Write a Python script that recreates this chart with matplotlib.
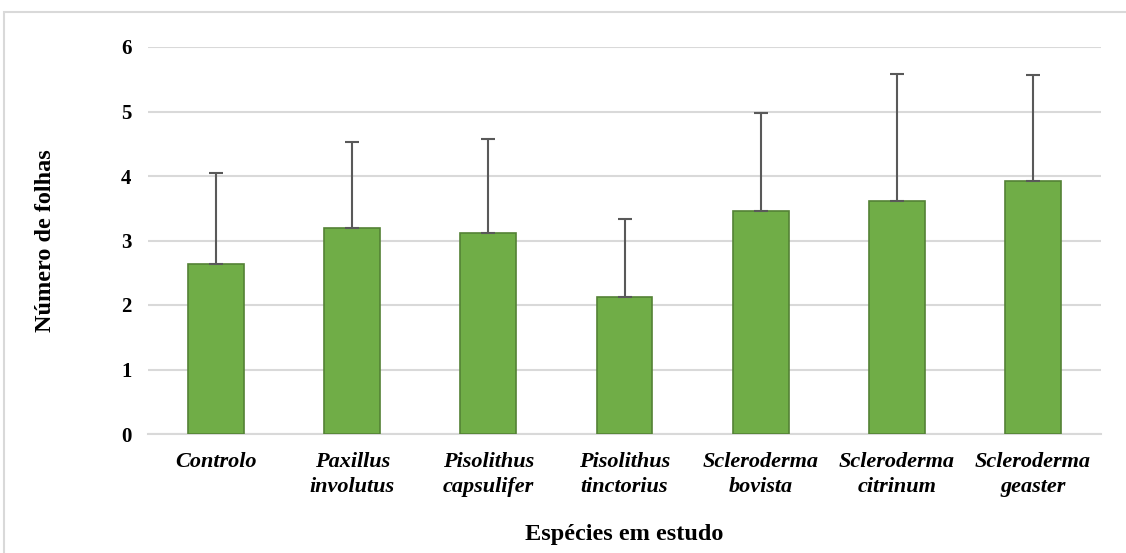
import matplotlib
matplotlib.use("Agg")
import matplotlib.pyplot as plt
from matplotlib.patches import Rectangle

especies = ['Controlo', 'Paxillus\ninvolutus', 'Pisolithus\ncapsulifer', 'Pisolithus\ntinctorius',
            'Scleroderma\nbovista', 'Scleroderma\ncitrinum', 'Scleroderma\ngeaster']
media = [2.64, 3.19, 3.12, 2.13, 3.45, 3.61, 3.92]
desvio = [1.41, 1.34, 1.45, 1.20, 1.52, 1.97, 1.64]

plt.rcParams['font.family'] = ['Liberation Serif', 'DejaVu Serif']

fig = plt.figure(figsize=(11.26, 5.53), dpi=100)
ax = fig.add_axes([148 / 1126, 119 / 553, 953 / 1126, 387 / 553])

# moldura do gráfico
fig.patches.append(Rectangle((4 / 1126, -0.1), 1.2, (553 - 12) / 553 + 0.1,
                             transform=fig.transFigure, fill=False,
                             edgecolor='#d9d9d9', linewidth=1.5))

x = range(len(especies))
ax.bar(x, media, width=0.41, color='#70ad47', edgecolor='#548235', linewidth=1.2, zorder=3)
ax.errorbar(x, media, yerr=[[0] * len(desvio), desvio], fmt='none', ecolor='#595959',
            elinewidth=1.5, capsize=5, capthick=1.5, zorder=4)

ax.set_xlim(-0.5, len(especies) - 0.5)
ax.set_ylim(0, 6)
ax.set_yticks(range(7))
ax.yaxis.grid(True, color='#d9d9d9', linewidth=1.5, zorder=0)
ax.set_axisbelow(True)
for s in ['top', 'right', 'left']:
    ax.spines[s].set_visible(False)
ax.spines['bottom'].set_color('#d9d9d9')
ax.spines['bottom'].set_linewidth(1.5)
ax.tick_params(axis='both', length=0)
ax.tick_params(axis='y', pad=12)
ax.tick_params(axis='x', pad=13)

ax.set_xticks(list(x))
ax.set_xticklabels(especies, fontsize=16, fontweight='bold', fontstyle='italic', linespacing=1.3)
for lab in ax.get_yticklabels():
    lab.set_fontsize(15)
    lab.set_fontweight('bold')

ax.set_xlabel('Espécies em estudo', fontsize=17.5, fontweight='bold', labelpad=20)
ax.set_ylabel('Número de folhas', fontsize=17.5, fontweight='bold', labelpad=47)

fig.savefig('out.png', dpi=100)
